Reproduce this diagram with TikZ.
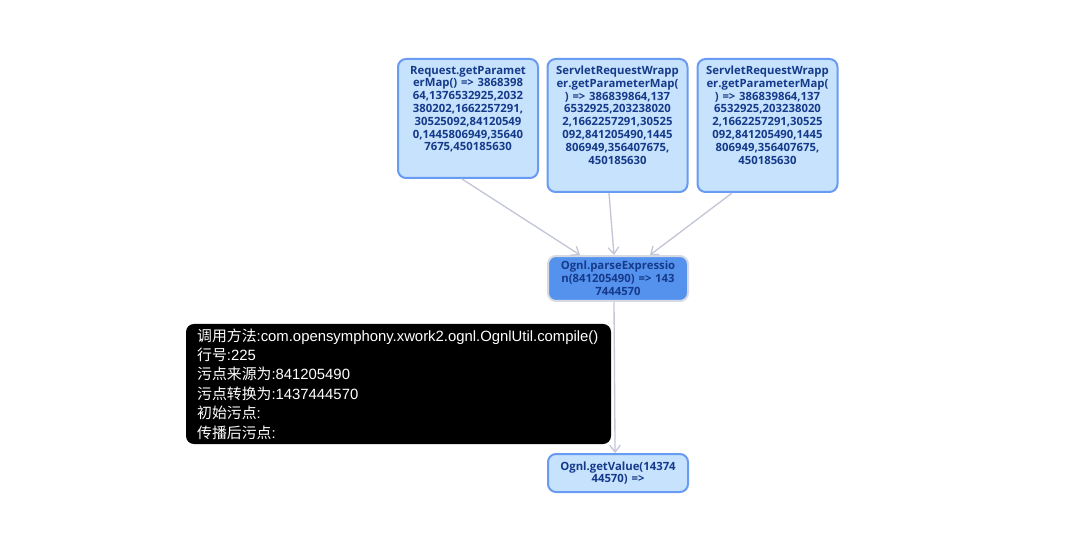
\documentclass[tikz,border=0pt]{standalone}
\usepackage{fontspec}
\setmainfont{Liberation Sans}
\newfontfamily\boxfont{Open Sans}
\newfontfamily\cjk{Noto Sans CJK SC}
\usetikzlibrary{arrows.meta}
\definecolor{boxfill}{HTML}{C6E2FC}
\definecolor{boxline}{HTML}{6A9BF2}
\definecolor{boxtext}{HTML}{153A8A}
\definecolor{hotfill}{HTML}{5592EE}
\definecolor{hotline}{HTML}{D6DAE3}
\definecolor{edgegray}{HTML}{C3C6D6}
\tikzset{
	callbox/.style={draw=boxline, fill=boxfill, line width=1.5pt, rounded corners=6pt,
		minimum width=105pt, inner sep=4pt, text=boxtext, align=center, text width=97pt,
		font=\boxfont\bfseries\fontsize{8.5}{9.6}\selectfont},
	hotbox/.style={callbox, draw=hotline, fill=hotfill},
	flow/.style={draw=edgegray, line width=1pt, -{Straight Barb[length=5pt,width=8pt]}},
	tipbox/.style={fill=black, rounded corners=6pt, text=white, align=left,
		inner xsep=8.25pt, text width=302pt, minimum width=318.75pt, minimum height=90pt,
		font=\fontsize{11.15}{14.6}\selectfont}
}
\newcommand{\topbox}[2]{\parbox[c][#1][t]{97pt}{\centering\vspace*{1.2pt}#2}}
\begin{document}
\begin{tikzpicture}[x=0.75pt, y=-0.75pt]
	\useasboundingbox (0,0) rectangle (1080,541);
	% source calls
	\draw (468,118.5) node[callbox] (req) {\topbox{81.25pt}{Request.getParamet\\erMap() => 3868398\\64,1376532925,2032\\380202,1662257291,\\30525092,84120549\\0,1445806949,35640\\7675,450185630}};
	\draw (617.5,125.5) node[callbox] (wrapa) {\topbox{91.75pt}{ServletRequestWrapp\\er.getParameterMap(\\) => 386839864,137\\6532925,203238020\\2,1662257291,30525\\092,841205490,1445\\806949,356407675,\\450185630}};
	\draw (767.5,125.5) node[callbox] (wrapb) {\topbox{91.75pt}{ServletRequestWrapp\\er.getParameterMap(\\) => 386839864,137\\6532925,203238020\\2,1662257291,30525\\092,841205490,1445\\806949,356407675,\\450185630}};
	% selected call
	\draw (618,278.5) node[hotbox, minimum height=32.25pt] (parse) {Ognl.parseExpressio\\n(841205490) => 143\\7444570};
	\draw (618,473) node[callbox, minimum height=28.5pt] (getval) {Ognl.getValue(14374\\44570) =>};
	% flows
	\draw[flow] ([xshift=-4.5pt]req.south) -- ([xshift=-28.5pt]parse.north);
	\draw[flow] ([xshift=-6.4pt]wrapa.south) -- ([xshift=-3pt]parse.north);
	\draw[flow] ([xshift=-26.6pt]wrapb.south) -- ([xshift=24pt]parse.north);
	\draw[flow] ([xshift=-3pt]parse.south) -- ([xshift=-2.2pt]getval.north);
	% tooltip
	\draw (398.5,384) node[tipbox] (tip) {{\cjk 调用方法}:com.opensymphony.xwork2.ognl.OgnlUtil.compile()\\
		{\cjk 行号}:225\\
		{\cjk 污点来源为}:841205490\\
		{\cjk 污点转换为}:1437444570\\
		{\cjk 初始污点}:\\
		{\cjk 传播后污点}:};
\end{tikzpicture}
\end{document}
